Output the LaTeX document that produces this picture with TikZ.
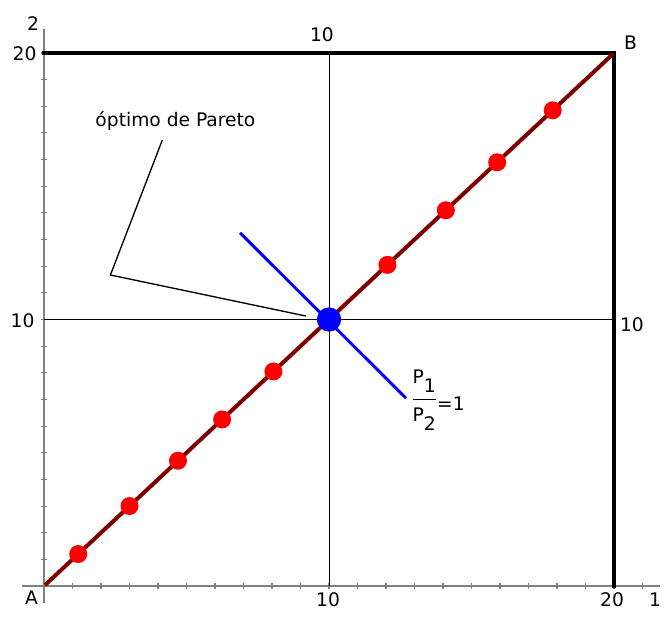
\documentclass[tikz,border=0pt]{standalone}
\usepackage{fontspec}
\setmainfont{DejaVu Sans}
\usetikzlibrary{positioning}
\definecolor{axgray}{RGB}{128,128,128}
\definecolor{diagred}{RGB}{128,0,0}
\tikzset{
  ax/.style={draw=axgray, line width=1.1pt},
  tck/.style={draw=axgray, line width=0.8pt},
  frm/.style={line width=3pt, line cap=rect},
  thin/.style={line width=0.75pt},
  diag/.style={draw=diagred, line width=3pt},
  budget/.style={draw=blue, line width=2.2pt},
  pointer/.style={line width=1pt},
  alloc/.style={circle, fill=red, inner sep=0pt, minimum size=13.5pt},
  optpt/.style={circle, fill=blue, inner sep=0pt, minimum size=18pt},
  lbl/.style={font=\fontsize{14}{16}\selectfont, inner sep=1pt},
}
\newcommand\pratio[2]{{\setbox0\hbox{P\lower6.75pt\hbox{#1}}%
  \rlap{\raise20.25pt\copy0}\rlap{\vrule width\wd0 height8.3pt depth-7.3pt}%
  \raise-8.25pt\hbox{P\lower6.75pt\hbox{#2}}}}

\begin{document}
\begin{tikzpicture}[x=21.375pt,y=19.9875pt]
\useasboundingbox (-1.544,-1.313) rectangle (22.035,21.989);
% axes
\draw[ax] (-0.77,0) -- (21.6,0);
\draw[ax] (0,-0.65) -- (0,20.9);
\foreach \k in {1,...,21} \draw[tck] (\k,-0.12) -- (\k,0.12);
\foreach \k in {1,...,20} \draw[tck] (-0.11,\k) -- (0.11,\k);
% box
\draw[thin] (0,10) -- (20,10);
\draw[thin] (10,0) -- (10,20);
\draw[frm] (0,20) -- (20,20) -- (20,0);
\node[optpt] (opt) at (10,10) {};
\coordinate (bl) at (6.88,13.25);
\coordinate (br) at (12.7,7.05);
\node[lbl, anchor=base west] (ratio) at (12.88,6.6) {\pratio{1}{2}\kern1pt=1};
\draw[budget] (bl) -- (br);
\node[inner sep=0pt] (A) at (0,0) {};
\node[inner sep=0pt] (B) at (20,20) {};
\draw[diag] (A) -- (B);
\node[optpt] at (opt) {};
\foreach \i/\t in {1/1.2,2/3.0,3/4.7,4/6.25,5/8.05,6/12.05,7/14.1,8/15.9,9/17.85}
  \node[alloc] (d\i) at (\t,\t) {};
% labels
\foreach \n/\x/\y/\t in {
 lA/-0.44/-0.45/A, lB/20.58/20.39/B, ly/-0.386/21.09/2, lx/21.44/-0.525/1,
 ly20/-0.684/19.96/20, ly10/-0.754/9.94/10, lt10/9.754/20.68/10,
 lb10/9.965/-0.525/10, lb20/19.93/-0.525/20, lr10/20.63/9.79/10} {
  \node[lbl] (\n) at (\x,\y) {\t};
}
\node[lbl, anchor=base west] (pareto) at (1.75,17.23) {óptimo de Pareto};
\coordinate (knee) at (2.33,11.67);
\coordinate (tip) at (9.19,10.13);
\draw[pointer] ([shift={(-9.8pt,-5.7pt)}]pareto.south) -- (knee) -- (tip);
\end{tikzpicture}
\end{document}
